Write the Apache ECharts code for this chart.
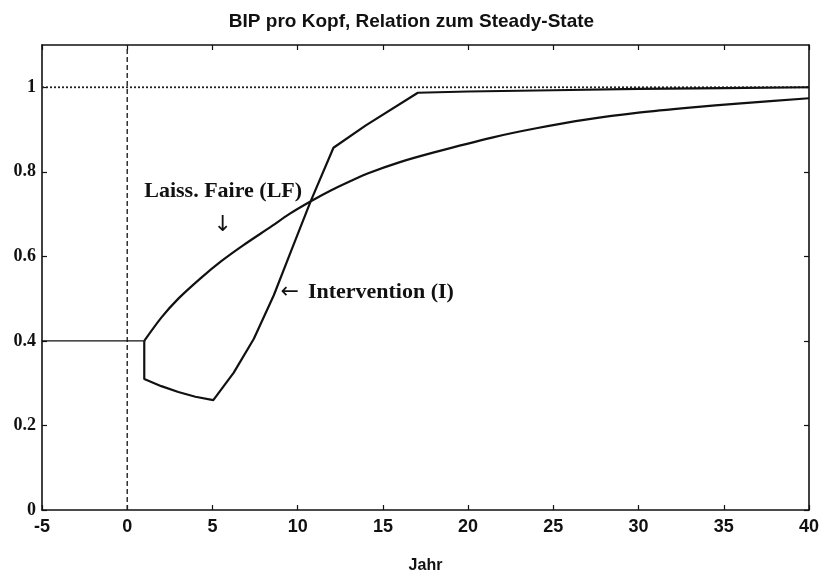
<!DOCTYPE html>
<html>
<head>
<meta charset="utf-8">
<script src="https://cdn.jsdelivr.net/npm/echarts@6/dist/echarts.min.js"></script>
<style>
html,body{margin:0;padding:0;background:#fff;}
#chart{width:823px;height:585px;}
</style>
</head>
<body>
<div id="chart"></div>
<script>
// Data
var titleText = 'BIP pro Kopf, Relation zum Steady-State';
var xAxisName = 'Jahr';
var xTicks = [-5, 0, 5, 10, 15, 20, 25, 30, 35, 40];
var yTicks = [0, 0.2, 0.4, 0.6, 0.8, 1];

// Initial level before the shock (both paths)
var preX = [-5, 1];
var preY = [0.4, 0.4];

// Laissez-faire path
var lfX = [1, 2, 3, 4.3, 5.5, 6.8, 8.5, 9.5, 10.8, 12, 13.1, 14.1, 16, 18, 21.4, 24, 27, 30, 33, 36, 40];
var lfY = [0.4, 0.455, 0.5, 0.548, 0.588, 0.626, 0.672, 0.7, 0.731, 0.757, 0.778, 0.796, 0.823, 0.846, 0.881, 0.903, 0.924, 0.94, 0.952, 0.962, 0.974];

// Intervention path
var intX = [1, 1, 2, 3, 4, 5.05, 6.25, 7.43, 8.6, 9.6, 10.76, 12.1, 14, 17.05, 20, 25, 30, 35, 40];
var intY = [0.4, 0.31, 0.293, 0.279, 0.268, 0.26, 0.325, 0.405, 0.508, 0.611, 0.730, 0.857, 0.91, 0.987, 0.99, 0.993, 0.996, 0.998, 1.0];

// Reference lines
var steadyX = [-5, 40];
var steadyY = [1, 1];
var shockX = [0, 0];
var shockY = [0, 1.1];

// Annotation labels
var lfLabel = 'Laiss. Faire (LF)';
var lfArrow = '\u2193';
var intArrow = '\u2190';
var intLabel = 'Intervention (I)';

function pairs(xs, ys) { return xs.map(function (x, i) { return [x, ys[i]]; }); }
function fmt(v) { return String(Math.round(v * 10) / 10); }

var chart = echarts.init(document.getElementById('chart'), null, {renderer: 'canvas'});
var axisLine = {show: true, onZero: false, lineStyle: {color: '#111', width: 1.6}};
function ticks(vals) {
  return {show: true, inside: true, length: 5, customValues: vals, lineStyle: {color: '#111', width: 1.2}};
}
var sans = 'Liberation Sans, Arial, sans-serif';

var option = {
  backgroundColor: '#fff',
  animation: false,
  title: {
    text: titleText,
    left: 'center',
    top: 7,
    textStyle: {fontFamily: sans, fontWeight: 'bold', fontSize: 19, color: '#111'}
  },
  grid: {left: 42, right: 14, top: 45, bottom: 75, containLabel: false},
  xAxis: [{
    type: 'value', position: 'bottom', min: -5, max: 40, interval: 5,
    axisLine: axisLine, axisTick: ticks(xTicks), splitLine: {show: false},
    axisLabel: {color: '#111', fontFamily: sans, fontWeight: 'bold', fontSize: 18, margin: 8,
      customValues: xTicks, formatter: function (v) { return String(v); }},
    name: xAxisName, nameLocation: 'middle', nameGap: 48,
    nameTextStyle: {color: '#111', fontFamily: sans, fontWeight: 'bold', fontSize: 16}
  }, {
    type: 'value', position: 'top', min: -5, max: 40, interval: 5,
    axisLine: axisLine, axisTick: ticks(xTicks), axisLabel: {show: false}, splitLine: {show: false}
  }],
  yAxis: [{
    type: 'value', position: 'left', min: 0, max: 1.1, interval: 0.1,
    axisLine: axisLine, axisTick: ticks(yTicks), splitLine: {show: false},
    axisLabel: {color: '#111', fontFamily: 'Liberation Serif, serif', fontWeight: 'bold', fontSize: 18, margin: 6,
      customValues: yTicks, formatter: function (v) { return fmt(v); }}
  }, {
    type: 'value', position: 'right', min: 0, max: 1.1, interval: 0.1,
    axisLine: axisLine, axisTick: ticks(yTicks), axisLabel: {show: false}, splitLine: {show: false}
  }],
  series: [
    {name: 'Steady-State', type: 'line', data: pairs(steadyX, steadyY), symbol: 'none', silent: true,
      lineStyle: {color: '#222', width: 1.8, type: [2, 2]}},
    {name: 'Schock', type: 'line', data: pairs(shockX, shockY), symbol: 'none', silent: true,
      lineStyle: {color: '#222', width: 1.4, type: [5, 3]}},
    {name: 'Ausgangsniveau', type: 'line', data: pairs(preX, preY), symbol: 'none',
      lineStyle: {color: '#111', width: 1.3}},
    {name: 'Laiss. Faire (LF)', type: 'line', data: pairs(lfX, lfY), symbol: 'none', smooth: 0.3,
      lineStyle: {color: '#111', width: 2.2}},
    {name: 'Intervention (I)', type: 'line', data: pairs(intX, intY), symbol: 'none', smooth: false,
      lineStyle: {color: '#111', width: 2.2}}
  ]
};
chart.setOption(option);

function place() {
  var p1 = chart.convertToPixel({xAxisIndex: 0, yAxisIndex: 0}, [1.0, 0.753]);
  var p2 = chart.convertToPixel({xAxisIndex: 0, yAxisIndex: 0}, [5.6, 0.673]);
  var p3 = chart.convertToPixel({xAxisIndex: 0, yAxisIndex: 0}, [9.0, 0.514]);
  var p4 = chart.convertToPixel({xAxisIndex: 0, yAxisIndex: 0}, [10.6, 0.514]);
  var ts = {fontFamily: 'Liberation Serif, serif', fontWeight: 'bold', fontSize: 22, fill: '#111'};
  var as = {fontFamily: 'DejaVu Sans, sans-serif', fontWeight: 'normal', fontSize: 22, fill: '#111'};
  chart.setOption({graphic: [
    {type: 'text', x: p1[0], y: p1[1], style: Object.assign({text: lfLabel, textVerticalAlign: 'middle'}, ts)},
    {type: 'text', x: p2[0], y: p2[1], style: Object.assign({text: lfArrow, textAlign: 'center', textVerticalAlign: 'middle'}, as)},
    {type: 'text', x: p3[0], y: p3[1], style: Object.assign({text: intArrow, textAlign: 'left', textVerticalAlign: 'middle'}, as)},
    {type: 'text', x: p4[0], y: p4[1], style: Object.assign({text: intLabel, textVerticalAlign: 'middle'}, ts)}
  ]});
}
place();
</script>
</body>
</html>
